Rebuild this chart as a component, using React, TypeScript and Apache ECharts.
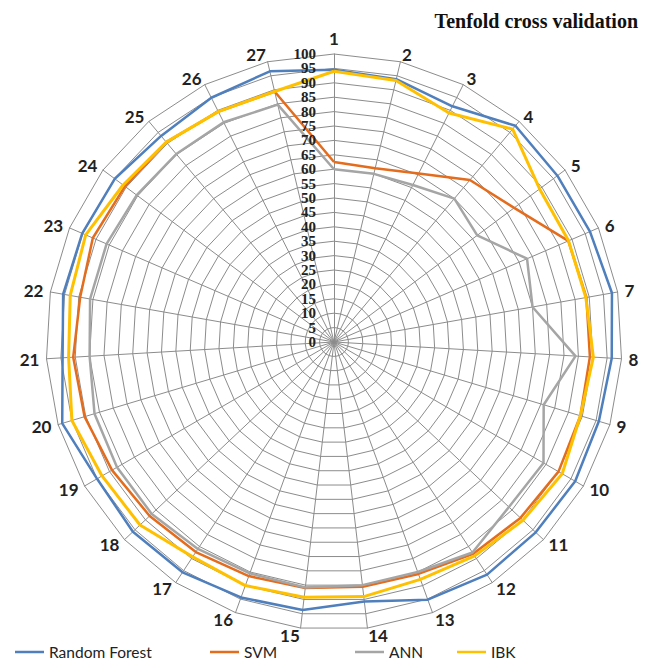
import React, { useEffect, useRef } from "react";
import * as echarts from "echarts";

const axisNames = ["1","2","3","4","5","6","7","8","9","10","11","12","13","14","15","16","17","18","19","20","21","22","23","24","25","26","27"];
const tickLabels = ["0","5","10","15","20","25","30","35","40","45","50","55","60","65","70","75","80","85","90","95","100"];
const seriesNames = ["Random Forest", "SVM", "ANN", "IBK"];
const randomForest = [94.5, 93.8, 91.6, 98, 96.7, 96.8, 98, 96.6, 96, 96.7, 96.3, 96.7, 95.2, 90.7, 93.7, 94.4, 95.7, 96, 95, 98.5, 94.4, 95.5, 95.2, 94.9, 93.4, 94.9, 96.6];
const svm = [62.5, 62, 65.5, 73.4, 78, 88.6, 89, 89, 89.3, 90, 89, 88, 85.7, 85.6, 86, 86.5, 87.3, 88, 89, 90.4, 90.7, 89.5, 91.2, 90.5, 90.6, 89.5, 89.4];
const ann = [60, 60, 61, 65, 62, 73, 70, 84, 76, 84, 83.5, 87.5, 85, 85, 85.8, 85.5, 86, 87, 87, 86.8, 85, 86, 86, 85.4, 85.2, 85.4, 84.7];
const ibk = [94, 93.3, 89, 96.5, 89, 88.7, 88.8, 90.2, 89.3, 91.5, 90.2, 88.9, 87.7, 89, 89.2, 90, 89.3, 92.6, 93, 95, 92.3, 93, 93.9, 91.3, 90.6, 89.5, 89.4];
const colors = ["#4f7fbd", "#e36c1d", "#a5a5a5", "#ffc000"];
const widths = [2.5, 2.5, 2.5, 3];

export default function App() {
  const ref = useRef<HTMLDivElement>(null);
  useEffect(() => {
    if (!ref.current) return;
    const chart = echarts.init(ref.current, null, { renderer: "svg" });
    // clockwise order: 1, 27, 26, ... 2 (radar runs counter-clockwise)
    const order = [0, ...Array.from({ length: axisNames.length - 1 }, (_, i) => axisNames.length - 1 - i)];
    const re = (a: any[]) => order.map((i) => a[i]);
    const all = [randomForest, svm, ann, ibk];
    const legendLefts = [10, 205, 350, 452];
    chart.setOption({
      animation: false,
      backgroundColor: "#ffffff",
      title: {
        text: "Tenfold cross validation",
        right: 18,
        top: 6,
        textStyle: { fontFamily: "Liberation Serif", fontWeight: "bold", fontSize: 20, color: "#111" },
      },
      legend: seriesNames.map((n, i) => ({
        data: [n],
        left: legendLefts[i],
        top: 639,
        icon: "rect",
        itemWidth: 29,
        itemHeight: 2.5,
        itemGap: 2,
        textStyle: { fontFamily: "Lato", fontSize: 15.5, color: "#222" },
      })),
      polar: { center: [334, 342], radius: 288 },
      angleAxis: { show: false, startAngle: 90, min: 0, max: 360 },
      radiusAxis: {
        type: "category",
        data: tickLabels,
        boundaryGap: false,
        axisLine: { show: false },
        axisTick: { show: false },
        splitLine: { show: false },
        axisLabel: {
          interval: 0,
          margin: 18,
          hideOverlap: false,
          fontFamily: "Liberation Serif",
          fontWeight: "bold",
          fontSize: 15,
          color: "#222",
        },
        z: 10,
      },
      radar: {
        center: [334, 342],
        radius: 288,
        startAngle: 90,
        splitNumber: 20,
        shape: "polygon",
        nameGap: 7,
        indicator: re(axisNames).map((n: string) => ({ name: n, min: 0, max: 100 })),
        axisName: { color: "#222", fontFamily: "Lato", fontWeight: "bold", fontSize: 17 },
        splitLine: { lineStyle: { color: "#8c8c8c", width: 1 } },
        splitArea: { show: false },
        axisLine: { lineStyle: { color: "#8c8c8c", width: 1 } },
      },
      series: seriesNames.map((n, i) => ({
        type: "radar",
        name: n,
        symbol: "none",
        color: colors[i],
        itemStyle: { color: colors[i] },
        lineStyle: { color: colors[i], width: widths[i] },
        data: [{ name: n, value: re(all[i]) }],
        z: 2 + i,
      })),
    });
    return () => chart.dispose();
  }, []);
  return <div ref={ref} style={{ position: "fixed", left: 0, top: 0, width: 661, height: 662 }} />;
}
